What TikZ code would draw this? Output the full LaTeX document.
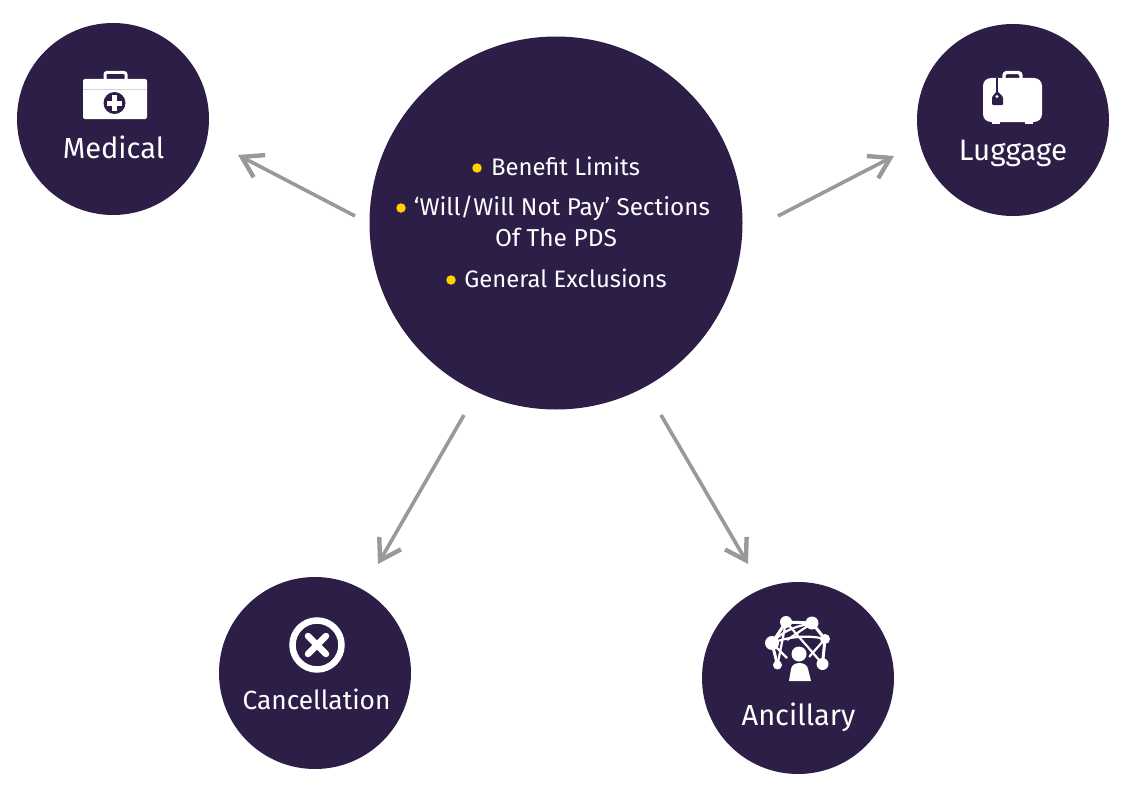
\documentclass[tikz,border=0pt]{standalone}
\usepackage{fontspec}
\setmainfont{Fira Sans}
\usetikzlibrary{arrows.meta}
\definecolor{plum}{HTML}{2C1E46}
\definecolor{arrowgrey}{HTML}{999999}
\definecolor{bullet}{HTML}{FFD400}
\tikzset{
  disc/.style={circle,fill=plum,minimum size=#1,inner sep=0pt},
  lab/.style={text=white,font=\fontsize{29}{34}\selectfont,inner sep=0pt,anchor=base},
  line1/.style={text=white,font=\fontsize{#1}{30}\selectfont,inner sep=0pt,anchor=base},
  conn/.style={draw=arrowgrey,line width=3.6pt,-{Straight Barb[length=20pt,width=25pt,line width=4.4pt]}},
  dot/.style={circle,fill=bullet,minimum size=9.5pt,inner sep=0pt},
  ico/.style={fill=white,draw=none},
}
\begin{document}
\begin{tikzpicture}[x=1pt,y=-1pt]
\useasboundingbox (0,0) rectangle (1125,792);
\node[disc=192pt] (med) at (113,119) {};
\node[disc=192pt] (lug) at (1013,120) {};
\node[disc=373pt] (core) at (556,223) {};
\node[disc=192pt] (can) at (315,673) {};
\node[disc=192pt] (anc) at (798,678) {};
% connectors
\coordinate (c1) at (355,216); \coordinate (m1) at (238,155);
\coordinate (c2) at (778,216); \coordinate (l1) at (894,156);
\coordinate (c3) at (464,415); \coordinate (k1) at (378,564);
\coordinate (c4) at (661,415); \coordinate (a1) at (748,564);
\draw[conn] (c1) -- (m1);
\draw[conn] (c2) -- (l1);
\draw[conn] (c3) -- (k1);
\draw[conn] (c4) -- (a1);
% core text
\node[line1=23.9] (t1) at (565.5,175) {Benefit Limits};
\node[line1=24.3] (t2) at (562,215) {‘Will/Will Not Pay’ Sections};
\node[line1=24.5] (t3) at (556,246) {Of The PDS};
\node[line1=23.8] (t4) at (565.5,287) {General Exclusions};
\node[dot] (d1) at (477,168) {};
\node[dot] (d2) at (401,208) {};
\node[dot] (d3) at (451,280) {};
% labels
\node[lab] (lm) at (113.5,158) {Medical};
\node[lab,font=\fontsize{29.5}{34}\selectfont] (ll) at (1013,160) {Luggage};
\node[lab,font=\fontsize{26.3}{32}\selectfont] (lc) at (316.5,709) {Cancellation};
\node[lab] (la) at (798.5,725) {Ancillary};
% medical icon
\fill[ico,rounded corners=2pt] (83,79) rectangle (147,119);
\draw[white,line width=3pt,rounded corners=2pt] (105,80) -- (105,72.5) -- (126,72.5) -- (126,80);
\draw[plum!20,line width=1pt] (83,90) -- (147,90);
\fill[plum] (114.5,103) circle (11);
\fill[white] (112,95.5) rectangle (117,110.5);
\fill[white] (107,100.5) rectangle (122,105.5);
% luggage icon
\fill[ico,rounded corners=8pt] (983,78) rectangle (1042,122);
\fill[ico] (992,120) rectangle (1000,124);
\fill[ico] (1025,120) rectangle (1033,124);
\draw[white,line width=3.4pt,rounded corners=3pt] (1004,80) -- (1004,72.5) -- (1021,72.5) -- (1021,80);
\fill[plum,rounded corners=1pt] (997,91) -- (1003,97) -- (1003,105) -- (992,105) -- (992,97) -- cycle;
\draw[plum,line width=1.2pt] (997,78) -- (997,93);
\fill[white] (997,96.5) circle (1.6);
% cancel icon
\draw[white,line width=6.5pt] (317,645) circle (24.5);
\draw[white,line width=6.5pt,line cap=round] (308,636) -- (326,654) (326,636) -- (308,654);
% ancillary icon
\foreach \n/\x/\y in {p1/786/622,p2/812/623,p3/772/643,p4/825/639,p5/777.5/665,p6/822.5/664}{
  \coordinate (\n) at (\x,\y);
}
\draw[white,line width=3pt]
  (p1) -- (p2) (p2) -- (p4) (p3) -- (p1) (p3) -- (p5) (p4) -- (p6);
\draw[white,line width=2.2pt]
  (p1) -- (p5) (p1) -- (p6) (p2) -- (787,640)
  (p3) -- (787,658) (p4) -- (809,657)
  (p3) .. controls (785,628) and (800,626) .. (p2)
  (p3) .. controls (790,636) and (810,635) .. (p4);
\fill[plum] (799,654) circle (10);
\foreach \n/\r in {p1/6,p2/6.5,p3/7,p4/5,p5/4.5,p6/6}{
  \fill[white] (\n) circle (\r);
}
\fill[white] (799,654) circle (7.5);
\fill[white] (789,681) -- (791,669) .. controls (792,661) and (807,661) .. (808,669) -- (811,681) -- cycle;
\end{tikzpicture}
\end{document}
